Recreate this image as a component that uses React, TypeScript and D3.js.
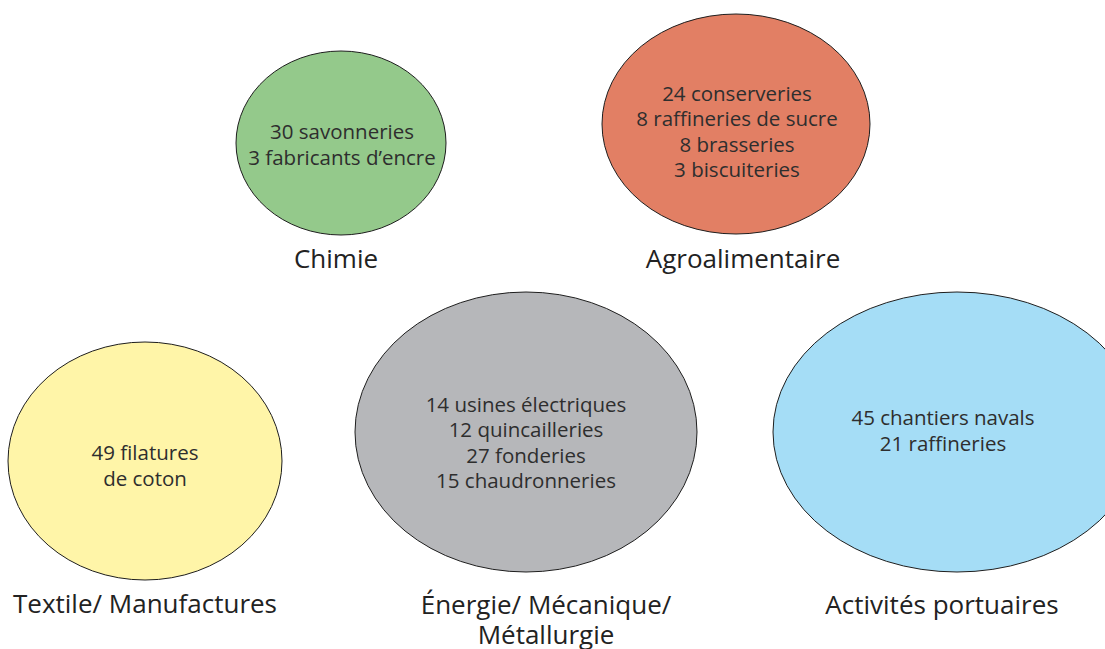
import React, { useEffect, useRef } from 'react';
import * as d3 from 'd3';

// Secteurs industriels et leur contenu
const categories = [
  'Chimie',
  'Agroalimentaire',
  'Textile/ Manufactures',
  'Énergie/ Mécanique/ Métallurgie',
  'Activités portuaires',
];
const labelLines = [
  ['Chimie'],
  ['Agroalimentaire'],
  ['Textile/ Manufactures'],
  ['Énergie/ Mécanique/', 'Métallurgie'],
  ['Activités portuaires'],
];
const contents = [
  ['30 savonneries', '3 fabricants d’encre'],
  ['24 conserveries', '8 raffineries de sucre', '8 brasseries', '3 biscuiteries'],
  ['49 filatures', 'de coton'],
  ['14 usines électriques', '12 quincailleries', '27 fonderies', '15 chaudronneries'],
  ['45 chantiers navals', '21 raffineries'],
];
const colors = ['#94c98b', '#e27f64', '#fff5a8', '#b6b7ba', '#a5ddf6'];

// placement of each bubble (page pixels)
const layout = [
  { cx: 341, cy: 143, rx: 105, ry: 92, tx: 342, ty: 144, lx: 336, ly: 258 },
  { cx: 736, cy: 124, rx: 134, ry: 110, tx: 737, ty: 131, lx: 743, ly: 258 },
  { cx: 145, cy: 461, rx: 137, ry: 119, tx: 145, ty: 465, lx: 145, ly: 603 },
  { cx: 526, cy: 432, rx: 171, ry: 140, tx: 526, ty: 442, lx: 546, ly: 604 },
  { cx: 957, cy: 432, rx: 184, ry: 140, tx: 943, ty: 430, lx: 942, ly: 604 },
];

const W = 1105;
const H = 649;
const FONT = '"Open Sans", Lato, sans-serif';

function BubbleDiagram() {
  const svgRef = useRef<SVGSVGElement>(null);

  useEffect(() => {
    const svg = d3.select(svgRef.current);
    svg.selectAll('*').remove();

    const color = d3.scaleOrdinal<string, string>().domain(categories).range(colors);
    const lineH = 25.5;

    const g = svg
      .selectAll('g.sector')
      .data(categories)
      .join('g')
      .attr('class', 'sector');

    g.append('ellipse')
      .attr('cx', (d, i) => layout[i].cx)
      .attr('cy', (d, i) => layout[i].cy)
      .attr('rx', (d, i) => layout[i].rx)
      .attr('ry', (d, i) => layout[i].ry)
      .attr('fill', d => color(d))
      .attr('stroke', '#1e1e1e')
      .attr('stroke-width', 1);

    // lines inside the bubble
    g.append('text')
      .attr('text-anchor', 'middle')
      .attr('font-family', FONT)
      .attr('font-size', 20.5)
      .attr('fill', '#2e2e2e')
      .selectAll('tspan')
      .data((d, i) =>
        contents[i].map((t, j) => ({
          t,
          x: layout[i].tx,
          y: layout[i].ty + (j - (contents[i].length - 1) / 2) * lineH,
        }))
      )
      .join('tspan')
      .attr('x', d => d.x)
      .attr('y', d => d.y)
      .attr('dominant-baseline', 'central')
      .text(d => d.t);

    // sector name under the bubble
    g.append('text')
      .attr('text-anchor', 'middle')
      .attr('font-family', FONT)
      .attr('font-size', 26)
      .attr('fill', '#222')
      .selectAll('tspan')
      .data((d, i) =>
        labelLines[i].map((t, j) => ({ t, x: layout[i].lx, y: layout[i].ly + j * 30 }))
      )
      .join('tspan')
      .attr('x', d => d.x)
      .attr('y', d => d.y)
      .attr('dominant-baseline', 'central')
      .text(d => d.t);
  }, []);

  return (
    <svg
      ref={svgRef}
      width={W}
      height={H}
      style={{ position: 'absolute', left: 0, top: 0, background: '#fff' }}
    />
  );
}

export default function App() {
  return <BubbleDiagram />;
}
